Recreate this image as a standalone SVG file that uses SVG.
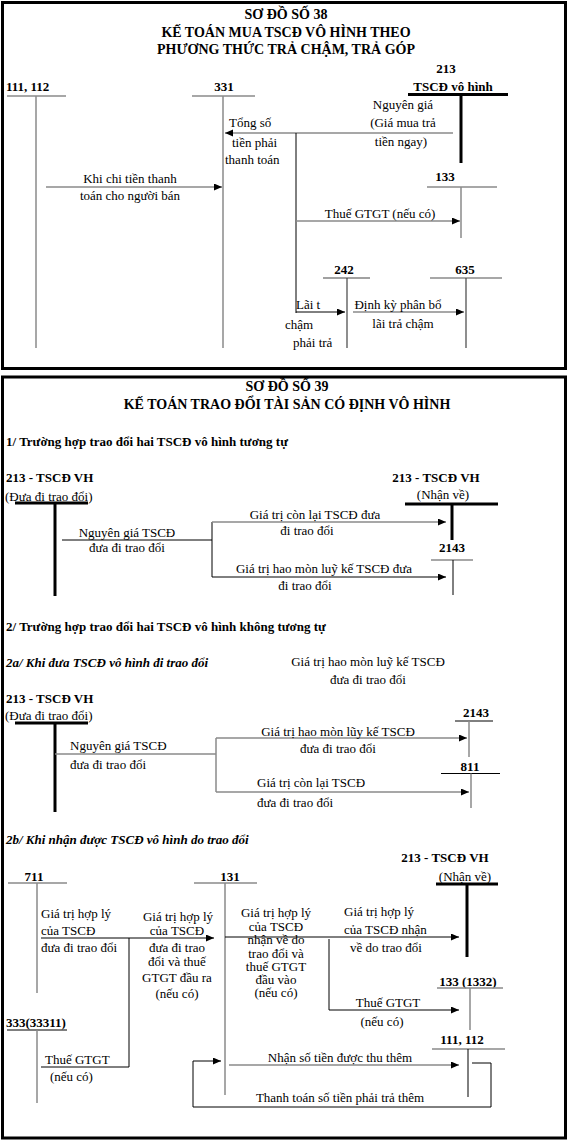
<svg xmlns="http://www.w3.org/2000/svg" width="573" height="1144" viewBox="0 0 573 1144" font-family="'Liberation Serif', 'Times New Roman', serif" font-size="13">
<defs>
<marker id="ah" markerUnits="userSpaceOnUse" markerWidth="9" markerHeight="8" refX="8" refY="3.5" orient="auto">
<path d="M0,0 L8,3.5 L0,7 z" fill="#000"/>
</marker>
<style>
text{fill:#000}
.b{font-weight:bold}
.ti{font-weight:bold;font-size:14px;text-anchor:middle}
.bi{font-weight:bold;font-style:italic}
.m{text-anchor:middle}
.g{stroke:#8a8a8a;stroke-width:1.5;fill:none}
.k{stroke:#000;stroke-width:1;fill:none}
.d{stroke:#444;stroke-width:1.2;fill:none}
.t{stroke:#000;stroke-width:3;fill:none}
.a{marker-end:url(#ah)}
.frame{stroke:#000;stroke-width:3;fill:#fff}
</style>
</defs>
<rect width="573" height="1144" fill="#fff"/>

<!-- ================= FRAME 1 ================= -->
<g id="frame38">
<rect class="frame" x="2.5" y="2.5" width="563" height="366"/>
<text class="ti" x="286" y="19">SƠ ĐỒ SỐ 38</text>
<text class="ti" x="286" y="37">KẾ TOÁN MUA TSCĐ VÔ HÌNH THEO</text>
<text class="ti" x="286" y="54">PHƯƠNG THỨC TRẢ CHẬM, TRẢ GÓP</text>
</g>

<g id="acc111_112_a">
<text class="b" x="6" y="91">111, 112</text>
<line class="g" x1="7" y1="96" x2="66" y2="96"/>
<line class="g" x1="36" y1="96" x2="36" y2="348"/>
</g>
<g id="acc331">
<text class="b m" x="224" y="91">331</text>
<line class="g" x1="192" y1="96" x2="255" y2="96"/>
<line class="g" x1="223" y1="96" x2="223" y2="348"/>
</g>
<g id="acc213_a">
<text class="b m" x="446" y="73">213</text>
<text class="b m" x="453" y="91">TSCĐ vô hình</text>
<line class="t" x1="408" y1="94.5" x2="508" y2="94.5"/>
<line class="t" x1="461" y1="94.5" x2="461" y2="163"/>
</g>
<g id="acc133_a">
<text class="b m" x="445" y="181">133</text>
<line class="g" x1="427" y1="187" x2="497" y2="187"/>
<line class="g" x1="461" y1="187" x2="461" y2="238"/>
</g>
<g id="acc242">
<text class="b m" x="344" y="274">242</text>
<line class="d" x1="323" y1="278" x2="370" y2="278"/>
<line class="d" x1="347" y1="278" x2="347" y2="348"/>
</g>
<g id="acc635">
<text class="b m" x="465" y="274">635</text>
<line class="g" x1="430" y1="278" x2="502" y2="278"/>
<line class="d" x1="466" y1="278" x2="466" y2="348"/>
</g>

<g id="connectors38">
<line class="g a" x1="453" y1="133" x2="225" y2="133"/>
<line class="k" x1="296" y1="133" x2="296" y2="313"/>
<line class="g a" x1="46" y1="187" x2="222" y2="187"/>
<line class="g a" x1="296" y1="221" x2="460" y2="221"/>
<line class="k a" x1="296" y1="312" x2="345" y2="312"/>
<line class="g a" x1="353" y1="312" x2="464" y2="312"/>
</g>
<g id="labels38">
<text class="m" x="403" y="109">Nguyên giá</text>
<text class="m" x="403" y="127">(Giá mua trả</text>
<text class="m" x="401" y="146">tiền ngay)</text>
<text x="229" y="127">Tổng số</text>
<text x="232" y="147">tiền phải</text>
<text x="225" y="164">thanh toán</text>
<text class="m" x="130" y="183">Khi chi tiền thanh</text>
<text class="m" x="130" y="200">toán cho người bán</text>
<text class="m" x="380" y="218">Thuế GTGT (nếu có)</text>
<text x="296" y="309">Lãi t</text>
<text x="285" y="329">chậm</text>
<text x="293" y="347">phải trả</text>
<text class="m" x="398" y="309">Định kỳ phân bổ</text>
<text class="m" x="403" y="328">lãi trả chậm</text>
</g>

<!-- ================= FRAME 2 ================= -->
<g id="frame39">
<rect class="frame" x="2.5" y="377" width="563" height="761"/>
<text class="ti" x="287" y="391">SƠ ĐỒ SỐ 39</text>
<text class="ti" x="287" y="409">KẾ TOÁN TRAO ĐỔI TÀI SẢN CÓ ĐỊNH VÔ HÌNH</text>
<text class="b" x="6" y="446">1/ Trường hợp trao đổi hai TSCĐ vô hình tương tự</text>
<text class="b" x="6" y="631">2/ Trường hợp trao đổi hai TSCĐ vô hình không tương tự</text>
<text class="bi" x="6" y="667">2a/ Khi đưa TSCĐ vô hình đi trao đổi</text>
<text class="bi" x="6" y="844">2b/ Khi nhận được TSCĐ vô hình do trao đổi</text>
</g>

<!-- Section 1 -->
<g id="s1_acc213_out">
<text class="b" x="6" y="482">213 - TSCĐ VH</text>
<text x="5" y="501">(Đưa đi trao đổi)</text>
<line class="t" x1="15" y1="503" x2="88" y2="503"/>
<line class="t" x1="55" y1="503" x2="55" y2="596"/>
</g>
<g id="s1_acc213_in">
<text class="b m" x="436" y="482">213 - TSCĐ VH</text>
<text class="m" x="443" y="499">(Nhận về)</text>
<line class="t" x1="405" y1="504" x2="498" y2="504"/>
<line class="t" x1="452" y1="504" x2="452" y2="540"/>
</g>
<g id="s1_acc2143">
<text class="b m" x="452" y="552">2143</text>
<line class="g" x1="431" y1="560" x2="473" y2="560"/>
<line class="k" x1="453" y1="560" x2="453" y2="595"/>
</g>
<g id="connectors_s1">
<line class="k" x1="62" y1="540" x2="212" y2="540"/>
<line class="k" x1="212" y1="522" x2="212" y2="577"/>
<line class="g a" x1="212" y1="522" x2="446" y2="522"/>
<line class="k a" x1="212" y1="577" x2="446" y2="577"/>
</g>
<g id="labels_s1">
<text class="m" x="127" y="537">Nguyên giá TSCĐ</text>
<text class="m" x="127" y="552">đưa đi trao đổi</text>
<text class="m" x="315" y="519">Giá trị còn lại TSCĐ đưa</text>
<text class="m" x="307" y="535">đi trao đổi</text>
<text class="m" x="324" y="573">Giá trị hao mòn luỹ kế TSCĐ đưa</text>
<text class="m" x="305" y="590">đi trao đổi</text>
</g>

<!-- Section 2a -->
<g id="s2a_note">
<text class="m" x="368" y="666">Giá trị hao mòn luỹ kế TSCĐ</text>
<text class="m" x="368" y="684">đưa đi trao đổi</text>
</g>
<g id="s2a_acc213">
<text class="b" x="6" y="703">213 - TSCĐ VH</text>
<text x="5" y="720">(Đưa đi trao đổi)</text>
<line class="t" x1="15" y1="723" x2="88" y2="723"/>
<line class="t" x1="55" y1="723" x2="55" y2="812"/>
</g>
<g id="s2a_acc2143">
<text class="b m" x="476" y="717">2143</text>
<line class="k" x1="455" y1="721" x2="493" y2="721"/>
<line class="g" x1="469" y1="721" x2="469" y2="757"/>
</g>
<g id="s2a_acc811">
<text class="b m" x="470" y="771">811</text>
<line class="k" x1="441" y1="773.5" x2="500" y2="773.5"/>
<line class="g" x1="471" y1="773.5" x2="471" y2="808"/>
</g>
<g id="connectors_s2a">
<line class="g" x1="55" y1="754" x2="216" y2="754"/>
<line class="g" x1="216" y1="738" x2="216" y2="792"/>
<line class="g a" x1="216" y1="738" x2="467" y2="738"/>
<line class="g a" x1="216" y1="792" x2="469" y2="792"/>
</g>
<g id="labels_s2a">
<text x="70" y="750">Nguyên giá TSCĐ</text>
<text x="70" y="769">đưa đi trao đổi</text>
<text class="m" x="338" y="736">Giá trị hao mòn lũy kế TSCĐ</text>
<text class="m" x="338" y="753">đưa đi trao đổi</text>
<text x="257" y="787">Giá trị còn lại TSCĐ</text>
<text x="257" y="807">đưa đi trao đổi</text>
</g>

<!-- Section 2b -->
<g id="s2b_acc711">
<text class="b m" x="34" y="881">711</text>
<line class="g" x1="8" y1="883" x2="67" y2="883"/>
<line class="g" x1="37" y1="883" x2="37" y2="993"/>
</g>
<g id="s2b_acc333">
<text class="b" x="6" y="1027">333(33311)</text>
<line class="k" x1="7" y1="1030" x2="67" y2="1030"/>
<line class="g" x1="37" y1="1030" x2="37" y2="1103"/>
</g>
<g id="s2b_acc131">
<text class="b m" x="230" y="881">131</text>
<line class="g" x1="194" y1="883" x2="257" y2="883"/>
<line class="g" x1="225" y1="883" x2="225" y2="1095"/>
</g>
<g id="s2b_acc213">
<text class="b m" x="445" y="862">213 - TSCĐ VH</text>
<text class="m" x="465" y="881">(Nhận về)</text>
<line class="t" x1="436" y1="884" x2="498" y2="884"/>
<line class="t" x1="467" y1="884" x2="467" y2="957"/>
</g>
<g id="s2b_acc133">
<text class="b m" x="468" y="986">133 (1332)</text>
<line class="g" x1="437" y1="988" x2="503" y2="988"/>
<line class="g" x1="470" y1="988" x2="470" y2="1030"/>
</g>
<g id="s2b_acc111">
<text class="b m" x="462" y="1044">111, 112</text>
<line class="g" x1="432" y1="1049" x2="505" y2="1049"/>
<line class="k" x1="468" y1="1049" x2="468" y2="1097"/>
</g>
<g id="connectors_s2b">
<line class="k a" x1="41" y1="938" x2="214" y2="938"/>
<line class="k" x1="129" y1="938" x2="129" y2="1067"/>
<line class="k" x1="41" y1="1067" x2="129" y2="1067"/>
<line class="k a" x1="225" y1="937" x2="459" y2="937"/>
<line class="k" x1="329" y1="939" x2="329" y2="1010"/>
<line class="k a" x1="329" y1="1010" x2="459" y2="1010"/>
<line class="g a" x1="229" y1="1065" x2="459" y2="1065"/>
<polyline class="k a" points="472,1063 491,1063 491,1107 193,1107 193,1061 221,1061"/>
</g>
<g id="labels_s2b">
<text x="41" y="918">Giá trị hợp lý</text>
<text x="41" y="935">của TSCĐ</text>
<text x="41" y="952">đưa đi trao đổi</text>
<text x="45" y="1064">Thuế GTGT</text>
<text x="50" y="1081">(nếu có)</text>
<text class="m" x="178" y="921">Giá trị hợp lý</text>
<text class="m" x="177" y="935">của TSCĐ</text>
<text class="m" x="177" y="952">đưa đi trao</text>
<text class="m" x="177" y="966">đổi và thuế</text>
<text class="m" x="177" y="982">GTGT  đầu ra</text>
<text class="m" x="177" y="998">(nếu có)</text>
<text class="m" x="276" y="917">Giá trị hợp lý</text>
<text class="m" x="276" y="931">của TSCĐ</text>
<text class="m" x="276" y="944">nhận về do</text>
<text class="m" x="276" y="958">trao đổi và</text>
<text class="m" x="276" y="971">thuế GTGT</text>
<text class="m" x="276" y="984">đầu vào</text>
<text class="m" x="276" y="997">(nếu có)</text>
<text x="344" y="916">Giá trị hợp lý</text>
<text x="344" y="934">của TSCĐ nhận</text>
<text x="350" y="952">về do trao đổi</text>
<text class="m" x="388" y="1007">Thuế GTGT</text>
<text class="m" x="382" y="1026">(nếu có)</text>
<text class="m" x="340" y="1062">Nhận số tiền được thu thêm</text>
<text class="m" x="340" y="1102">Thanh toán số tiền phải trả thêm</text>
</g>
</svg>
